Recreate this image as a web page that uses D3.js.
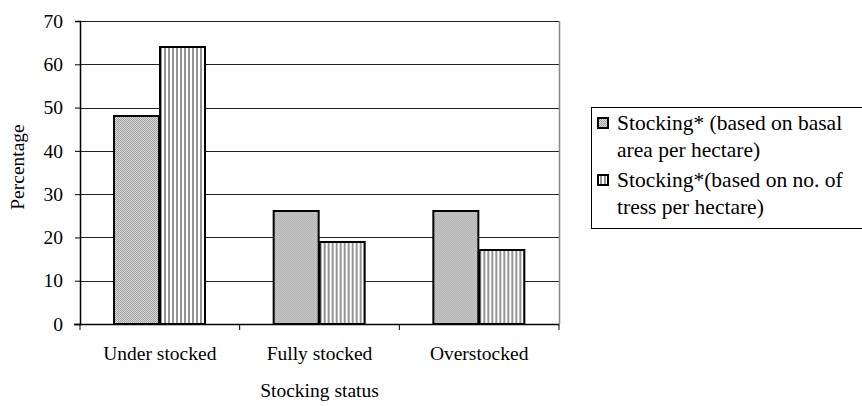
<!DOCTYPE html>
<html>
<head>
<meta charset="utf-8">
<script src="https://cdn.jsdelivr.net/npm/d3@7"></script>
<style>
  html, body { margin: 0; padding: 0; background: #fff; }
  svg { display: block; }
  svg text { font-family: "Times New Roman", Times, "Liberation Serif", "DejaVu Serif", serif !important; fill: #000; }
</style>
</head>
<body>
<svg id="chart" width="862" height="406"></svg>
<script>
// Stocking status categories and the two stocking measures (percent)
const categories = ["Under stocked", "Fully stocked", "Overstocked"];
const seriesNames = [
  ["Stocking* (based on basal", "area per hectare)"],
  ["Stocking*(based on no. of", "tress per hectare)"]
];
const basalArea = [48, 26, 26];
const treesPerHa = [64, 19, 17];
const yTicks = [0, 10, 20, 30, 40, 50, 60, 70];

const seriesValues = [basalArea, treesPerHa];
const serif = '"Times New Roman", Times, "Liberation Serif", serif';

const svg = d3.select("#chart");
const plot = { left: 80, right: 559, top: 21, bottom: 324 };

// Fill patterns for the two series
const defs = svg.append("defs");
const dots = defs.append("pattern")
  .attr("id", "pat-dots").attr("patternUnits", "userSpaceOnUse")
  .attr("width", 2).attr("height", 2);
dots.append("rect").attr("width", 2).attr("height", 2).attr("fill", "#d6d6d6");
dots.append("rect").attr("width", 1).attr("height", 1).attr("fill", "#a4a4a4");
dots.append("rect").attr("x", 1).attr("y", 1).attr("width", 1).attr("height", 1).attr("fill", "#a4a4a4");

const stripes = defs.append("pattern")
  .attr("id", "pat-stripes").attr("patternUnits", "userSpaceOnUse")
  .attr("width", 4).attr("height", 4);
stripes.append("rect").attr("width", 4).attr("height", 4).attr("fill", "#fff");
stripes.append("rect").attr("width", 2).attr("height", 4).attr("fill", "#949494");

const fills = ["url(#pat-dots)", "url(#pat-stripes)"];

// Scales
const x0 = d3.scaleBand().domain(categories).range([plot.left, plot.right]).padding(0);
const x1 = d3.scaleBand().domain([0, 1]).range([0, x0.bandwidth()])
  .paddingInner(0).paddingOuter(0.76);
const y = d3.scaleLinear().domain([0, 70]).range([plot.bottom, plot.top]);

// Horizontal gridlines
svg.append("g").selectAll("line").data(yTicks.filter(t => t > 0)).join("line")
  .attr("x1", plot.left).attr("x2", plot.right)
  .attr("y1", d => Math.round(y(d)) + 0.5).attr("y2", d => Math.round(y(d)) + 0.5)
  .attr("stroke", "#222").attr("stroke-width", 1);

// Right border of the plot area
svg.append("line")
  .attr("x1", plot.right + 0.5).attr("x2", plot.right + 0.5)
  .attr("y1", plot.top).attr("y2", plot.bottom)
  .attr("stroke", "#888").attr("stroke-width", 1.5);

// Bars
const groups = svg.append("g").selectAll("g").data(categories).join("g")
  .attr("transform", d => `translate(${x0(d)},0)`);
groups.selectAll("rect")
  .data((c, i) => seriesValues.map((vals, s) => ({ s, v: vals[i] })))
  .join("rect")
  .attr("x", d => Math.round(x1(d.s)))
  .attr("width", Math.round(x1.bandwidth()))
  .attr("y", d => Math.round(y(d.v)))
  .attr("height", d => Math.round(y(0)) - Math.round(y(d.v)))
  .attr("fill", d => fills[d.s])
  .attr("stroke", "#000").attr("stroke-width", 2);

// Y axis
const yAxis = svg.append("g")
  .attr("transform", `translate(${plot.left},0)`)
  .call(d3.axisLeft(y).tickValues(yTicks).tickSize(5).tickPadding(12));
yAxis.attr("font-family", serif);
yAxis.select(".domain").attr("stroke", "#000").attr("stroke-width", 1.5);
yAxis.selectAll(".tick line").attr("stroke", "#000");
yAxis.selectAll(".tick text").style("font-size", "19.5px");

// X axis
const xAxis = svg.append("g")
  .attr("transform", `translate(0,${plot.bottom})`)
  .call(d3.axisBottom(x0).tickSize(0).tickPadding(22));
xAxis.attr("font-family", serif);
xAxis.select(".domain").remove();
xAxis.selectAll(".tick text").style("font-size", "19.5px");
svg.append("line")
  .attr("x1", plot.left - 6).attr("x2", plot.right)
  .attr("y1", plot.bottom + 0.5).attr("y2", plot.bottom + 0.5)
  .attr("stroke", "#000").attr("stroke-width", 1.5);
// Tick marks at category boundaries
svg.append("g").selectAll("line")
  .data(categories.map(c => x0(c)).concat([plot.right]))
  .join("line")
  .attr("x1", d => d).attr("x2", d => d)
  .attr("y1", plot.bottom).attr("y2", plot.bottom + 6)
  .attr("stroke", "#000").attr("stroke-width", 1);

// Axis titles
svg.append("text")
  .attr("x", (plot.left + plot.right) / 2).attr("y", 397)
  .attr("text-anchor", "middle").style("font-size", "19.5px")
  .text("Stocking status");
svg.append("text")
  .attr("transform", "translate(24,167) rotate(-90)")
  .attr("text-anchor", "middle").style("font-size", "19.5px")
  .text("Percentage");

// Legend
const legend = svg.append("g");
legend.append("rect")
  .attr("x", 591.5).attr("y", 107.5).attr("width", 290).attr("height", 121)
  .attr("fill", "#fff").attr("stroke", "#000").attr("stroke-width", 1);
seriesNames.forEach((lines, i) => {
  const top = 118 + i * 57;
  legend.append("rect")
    .attr("x", 598).attr("y", top).attr("width", 10).attr("height", 10)
    .attr("fill", fills[i]).attr("stroke", "#000").attr("stroke-width", 2);
  lines.forEach((ln, j) => {
    legend.append("text")
      .attr("x", 617).attr("y", top + 12 + j * 27)
      .style("font-size", "21.5px")
      .text(ln);
  });
});
</script>
</body>
</html>
